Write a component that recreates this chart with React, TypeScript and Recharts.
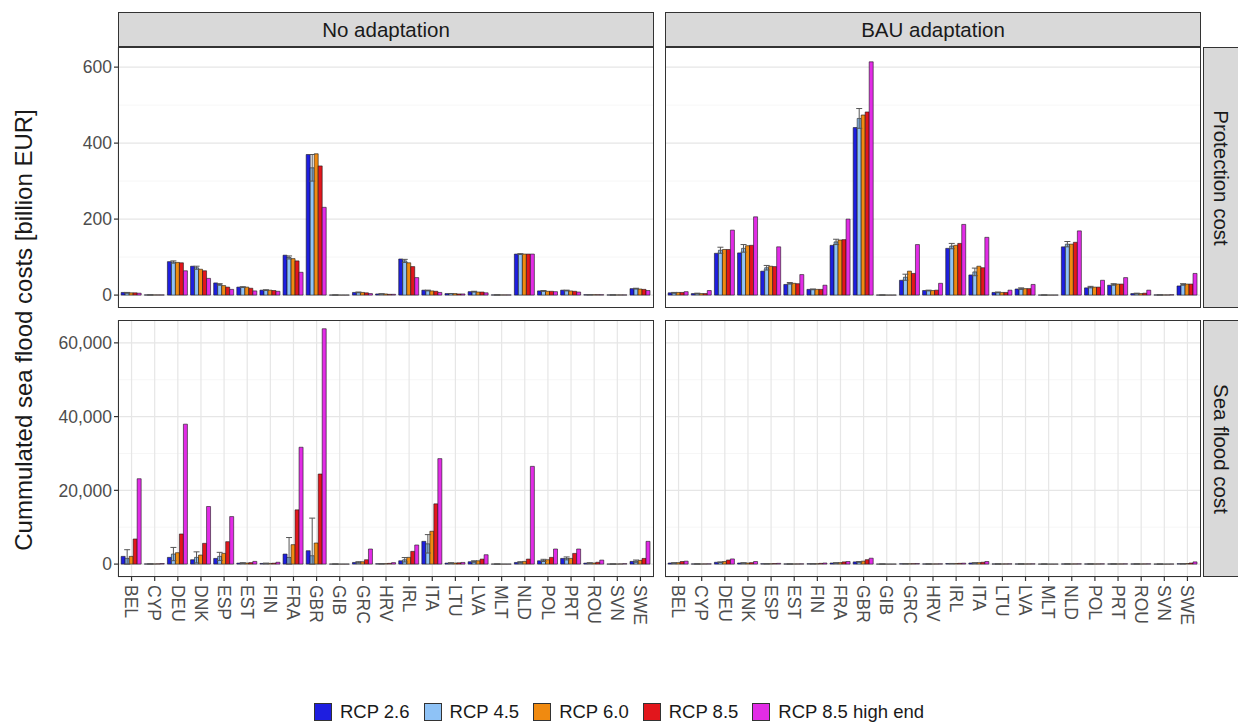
import React from "react";
import {
  Bar,
  BarChart,
  CartesianGrid,
  ErrorBar,
  XAxis,
  YAxis,
} from "recharts";

const categories = [
  "BEL", "CYP", "DEU", "DNK", "ESP", "EST", "FIN", "FRA", "GBR", "GIB", "GRC", "HRV",
  "IRL", "ITA", "LTU", "LVA", "MLT", "NLD", "POL", "PRT", "ROU", "SVN", "SWE",
];

const seriesKeys = ["rcp26", "rcp45", "rcp60", "rcp85", "high"];
const seriesNames = ["RCP 2.6", "RCP 4.5", "RCP 6.0", "RCP 8.5", "RCP 8.5 high end"];
const seriesColors = ["#1e1ee0", "#8ec2f6", "#f08a10", "#e2161c", "#e22ce6"];

// Protection cost, no adaptation [billion EUR]
const protNo26 = [7, 0.5, 88, 76, 32, 21, 13, 105, 370, 0.2, 7, 3, 95, 13, 4, 9, 0.5, 108, 11, 13, 1, 0.5, 17];
const protNo45 = [6, 0.5, 87, 72, 28, 21, 13, 99, 335, 0.2, 7, 3, 90, 12, 4, 9, 0.5, 108, 11, 12, 1, 0.5, 17];
const protNo60 = [6, 0.5, 86, 68, 25, 21, 13, 96, 372, 0.2, 7, 3, 85, 11, 4, 8, 0.5, 108, 10, 11, 1, 0.5, 16];
const protNo85 = [6, 0.5, 85, 64, 21, 18, 12, 90, 340, 0.2, 6, 2, 75, 10, 3, 8, 0.5, 108, 10, 10, 1, 0.5, 15];
const protNoHigh = [5, 0.5, 64, 44, 15, 11, 10, 60, 231, 0.2, 4, 2, 46, 7, 3, 6, 0.5, 108, 9, 8, 1, 0.5, 12];
const protNoErr45 = [1, 0, 3, 4, 2, 1, 1, 4, 35, 0, 1, 0, 4, 1, 0, 1, 0, 1, 1, 1, 0, 0, 1];

// Protection cost, BAU adaptation
const protBau26 = [6, 4, 110, 111, 63, 28, 15, 131, 441, 0.2, 39, 12, 123, 53, 7, 16, 0.2, 127, 19, 26, 4, 0.5, 24];
const protBau45 = [6, 4, 118, 123, 72, 31, 15, 140, 465, 0.2, 47, 12, 129, 61, 7, 17, 0.2, 134, 21, 28, 4, 0.5, 28];
const protBau60 = [7, 4, 120, 130, 76, 31, 15, 145, 474, 0.2, 63, 12, 131, 76, 7, 17, 0.2, 134, 21, 29, 4, 0.5, 29];
const protBau85 = [7, 4, 120, 131, 75, 30, 15, 146, 482, 0.2, 57, 13, 136, 72, 7, 17, 0.2, 139, 21, 29, 5, 0.5, 29];
const protBauHigh = [9, 12, 171, 206, 127, 54, 26, 200, 614, 0.2, 133, 31, 186, 152, 13, 28, 0.2, 169, 39, 46, 13, 1, 57];
const protBauErr45 = [1, 1, 8, 10, 6, 2, 1, 7, 26, 0, 8, 1, 7, 10, 1, 2, 0, 7, 2, 2, 1, 0, 2];

// Sea flood cost, no adaptation
const floodNo26 = [2090, 50, 1820, 1180, 1540, 270, 180, 2720, 3630, 20, 450, 100, 900, 6170, 270, 640, 20, 450, 900, 1540, 270, 30, 730];
const floodNo45 = [1500, 50, 2720, 1820, 2090, 270, 180, 1800, 2270, 20, 450, 100, 1180, 5500, 270, 700, 20, 450, 1000, 1540, 270, 30, 800];
const floodNo60 = [2090, 50, 3090, 2450, 2900, 300, 200, 5270, 5720, 20, 640, 120, 1820, 8900, 300, 900, 20, 730, 1180, 1540, 300, 40, 1000];
const floodNo85 = [6810, 80, 8170, 5630, 6080, 400, 250, 14710, 24430, 20, 1180, 200, 3450, 16340, 350, 1360, 20, 1360, 1820, 2900, 500, 60, 1540];
const floodNoHigh = [23150, 150, 37950, 15620, 12890, 730, 500, 31690, 63830, 20, 4090, 400, 5180, 28600, 450, 2540, 20, 26510, 4090, 4090, 1090, 120, 6170];
const floodNoErr45 = [2400, 30, 1800, 1500, 1100, 100, 80, 5400, 10200, 0, 200, 50, 600, 2500, 100, 200, 0, 200, 300, 400, 100, 10, 300];

// Sea flood cost, BAU adaptation
const floodBau26 = [300, 50, 500, 300, 100, 50, 100, 300, 600, 20, 100, 50, 150, 300, 50, 50, 20, 50, 50, 50, 50, 20, 100];
const floodBau45 = [300, 50, 500, 300, 100, 50, 100, 300, 600, 20, 100, 50, 150, 300, 50, 50, 20, 50, 50, 50, 50, 20, 100];
const floodBau60 = [400, 50, 700, 300, 100, 50, 100, 400, 800, 20, 100, 50, 150, 400, 50, 50, 20, 50, 50, 50, 50, 20, 150];
const floodBau85 = [700, 60, 1100, 400, 150, 60, 200, 600, 1200, 20, 120, 60, 200, 500, 60, 60, 20, 60, 60, 60, 60, 30, 300];
const floodBauHigh = [800, 80, 1400, 700, 200, 80, 300, 700, 1600, 20, 150, 80, 250, 700, 80, 80, 20, 80, 80, 80, 80, 40, 600];
const floodBauErr45 = [50, 0, 80, 40, 20, 0, 10, 50, 100, 0, 10, 0, 20, 40, 0, 0, 0, 0, 0, 0, 0, 0, 20];

const protTicks = [0, 200, 400, 600];
const protMinor = [100, 300, 500];
const floodTicks = [0, 20000, 40000, 60000];
const floodMinor = [10000, 30000, 50000];

function buildRows(s26: number[], s45: number[], s60: number[], s85: number[], hi: number[], err: number[]) {
  return categories.map((name, i) => ({
    name,
    rcp26: s26[i],
    rcp45: s45[i],
    rcp60: s60[i],
    rcp85: s85[i],
    high: hi[i],
    // error bar is cut at zero, like the original
    err: [Math.min(err[i], s45[i]), err[i]],
  }));
}

const FONT = '"Liberation Sans", Arial, Helvetica, sans-serif';
const PLOT_W = 536;
const Y_AXIS_W = 60;
const X_AXIS_H = 80;

function RotTick(props: any) {
  const { x, y, payload } = props;
  const yy = y + 2;
  return (
    <text
      x={x}
      y={yy}
      dy="0.36em"
      transform={`rotate(90 ${x} ${yy})`}
      textAnchor="start"
      fill="#4d4d4d"
      fontSize={17.5}
      fontFamily={FONT}
    >
      {payload.value}
    </text>
  );
}

function Panel({
  rows,
  left,
  top,
  height,
  domain,
  ticks,
  minor,
  yAxis,
  xAxis,
}: {
  rows: any[];
  left: number;
  top: number;
  height: number;
  domain: [number, number];
  ticks: number[];
  minor: number[];
  yAxis: boolean;
  xAxis: boolean;
}) {
  const w = PLOT_W + (yAxis ? Y_AXIS_W : 0);
  const h = height + (xAxis ? X_AXIS_H : 0);
  return (
    <>
      <div style={{ position: "absolute", left: left - (yAxis ? Y_AXIS_W : 0), top }}>
        <BarChart
          width={w}
          height={h}
          data={rows}
          margin={{ top: 0, right: 0, bottom: 0, left: 0 }}
          barCategoryGap="5%"
          barGap={0}
        >
          <CartesianGrid
            horizontalValues={minor}
            vertical={false}
            stroke="#f2f2f2"
            strokeWidth={0.7}
          />
          <CartesianGrid stroke="#e6e6e6" strokeWidth={1.2} />
          <XAxis
            dataKey="name"
            padding={{ left: 2, right: 2 }}
            height={xAxis ? X_AXIS_H : 0}
            interval={0}
            axisLine={false}
            tickSize={4}
            tickLine={xAxis ? { stroke: "#333", strokeWidth: 1.2 } : false}
            tick={xAxis ? <RotTick /> : false}
          />
          <YAxis
            type="number"
            domain={domain}
            ticks={ticks}
            allowDataOverflow
            hide={!yAxis}
            width={Y_AXIS_W}
            axisLine={false}
            tickSize={4}
            tickLine={{ stroke: "#333", strokeWidth: 1.2 }}
            tick={{ fill: "#4d4d4d", fontSize: 17.5, fontFamily: FONT }}
            tickFormatter={(v: number) => v.toLocaleString("en-US")}
          />
          {seriesKeys.map((k, i) => (
            <Bar
              key={k}
              dataKey={k}
              fill={seriesColors[i]}
              stroke="#1a1a1a"
              strokeWidth={0.6}
              isAnimationActive={false}
            >
              {k === "rcp45" && (
                <ErrorBar dataKey="err" width={3} stroke="#555" strokeWidth={1} direction="y" />
              )}
            </Bar>
          ))}
        </BarChart>
      </div>
      <div
        style={{
          position: "absolute",
          left,
          top,
          width: PLOT_W,
          height,
          boxSizing: "border-box",
          border: "1.2px solid #333",
          pointerEvents: "none",
        }}
      />
    </>
  );
}

function Strip({ left, top, width, height, label, vertical }: any) {
  return (
    <div
      style={{
        position: "absolute",
        left,
        top,
        width,
        height,
        boxSizing: "border-box",
        background: "#d9d9d9",
        border: "1.2px solid #333",
        display: "flex",
        alignItems: "center",
        justifyContent: "center",
        color: "#1a1a1a",
        fontSize: 20.5,
      }}
    >
      <span style={{ whiteSpace: "nowrap", transform: vertical ? "rotate(90deg)" : undefined }}>
        {label}
      </span>
    </div>
  );
}

export default function App() {
  const protNo = buildRows(protNo26, protNo45, protNo60, protNo85, protNoHigh, protNoErr45);
  const protBau = buildRows(protBau26, protBau45, protBau60, protBau85, protBauHigh, protBauErr45);
  const floodNo = buildRows(floodNo26, floodNo45, floodNo60, floodNo85, floodNoHigh, floodNoErr45);
  const floodBau = buildRows(floodBau26, floodBau45, floodBau60, floodBau85, floodBauHigh, floodBauErr45);

  const leftX = 118;
  const rightX = 665;
  const topY = 47;
  const topH = 261;
  const botY = 320;
  const botH = 257;

  return (
    <div
      style={{
        position: "absolute",
        left: 0,
        top: 0,
        width: 1238,
        height: 724,
        background: "#fff",
        fontFamily: FONT,
        overflow: "hidden",
      }}
    >
      <Strip left={leftX} top={12} width={PLOT_W} height={35} label="No adaptation" />
      <Strip left={rightX} top={12} width={PLOT_W} height={35} label="BAU adaptation" />
      <Strip left={rightX + PLOT_W + 2} top={topY} width={36} height={topH} label="Protection cost" vertical />
      <Strip left={rightX + PLOT_W + 2} top={botY} width={36} height={botH} label="Sea flood cost" vertical />

      <Panel rows={protNo} left={leftX} top={topY} height={topH} domain={[-34, 653]} ticks={protTicks} minor={protMinor} yAxis xAxis={false} />
      <Panel rows={protBau} left={rightX} top={topY} height={topH} domain={[-34, 653]} ticks={protTicks} minor={protMinor} yAxis={false} xAxis={false} />
      <Panel rows={floodNo} left={leftX} top={botY} height={botH} domain={[-3500, 66200]} ticks={floodTicks} minor={floodMinor} yAxis xAxis />
      <Panel rows={floodBau} left={rightX} top={botY} height={botH} domain={[-3500, 66200]} ticks={floodTicks} minor={floodMinor} yAxis={false} xAxis />

      <div
        style={{
          position: "absolute",
          left: 24,
          top: 330,
          transform: "translate(-50%, -50%) rotate(-90deg)",
          whiteSpace: "nowrap",
          fontSize: 24,
          color: "#1a1a1a",
        }}
      >
        Cummulated sea flood costs [billion EUR]
      </div>

      <div
        style={{
          position: "absolute",
          left: 0,
          width: 1238,
          top: 700,
          height: 24,
          display: "flex",
          alignItems: "center",
          justifyContent: "center",
          fontSize: 18.5,
          color: "#1a1a1a",
        }}
      >
        {seriesNames.map((n, i) => (
          <div key={n} style={{ display: "flex", alignItems: "center", marginRight: i < 4 ? 14 : 0 }}>
            <div
              style={{
                width: 18,
                height: 18,
                boxSizing: "border-box",
                background: seriesColors[i],
                border: "1px solid #333",
                marginRight: 8,
              }}
            />
            <span>{n}</span>
          </div>
        ))}
      </div>
    </div>
  );
}
